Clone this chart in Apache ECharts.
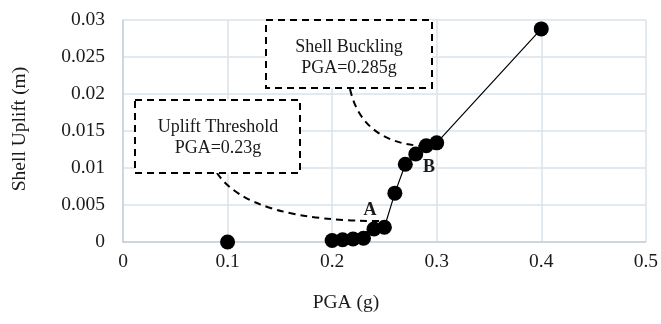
<!DOCTYPE html>
<html>
<head>
<meta charset="utf-8">
<script src="https://cdn.jsdelivr.net/npm/echarts@6/dist/echarts.min.js"></script>
<style>
  html, body { margin: 0; padding: 0; background: #fff; }
  #chart { width: 661px; height: 324px; }
</style>
</head>
<body>
<div id="chart"></div>
<script>
// Peak ground acceleration (g) and measured shell uplift (m) per analysis run
const pga = [0.1, 0.2, 0.21, 0.22, 0.23, 0.24, 0.25, 0.26, 0.27, 0.28, 0.29, 0.3, 0.4];
const uplift = [0, 0.0002, 0.0003, 0.0004, 0.0005, 0.00175, 0.002, 0.0066, 0.0105, 0.0119, 0.013, 0.0134, 0.0288];

// Runs joined by the trend line
const linePga = [0.2, 0.25, 0.26, 0.27, 0.28, 0.29, 0.3, 0.4];
const lineUplift = [0.0002, 0.002, 0.0066, 0.0105, 0.0119, 0.013, 0.0134, 0.0288];

const xTickLabels = ['0', '0.1', '0.2', '0.3', '0.4', '0.5'];
const yTickLabels = ['0', '0.005', '0.01', '0.015', '0.02', '0.025', '0.03'];

const FONT = '"Liberation Serif", "Times New Roman", serif';
const TXT = '#1a1a1a';
const AXIS_FS = 19.5;

const chart = echarts.init(document.getElementById('chart'), null, { renderer: 'canvas' });

const dashStyle = { stroke: '#000', lineWidth: 2, lineDash: [7, 5], fill: null };

chart.setOption({
  animation: false,
  backgroundColor: '#fff',
  grid: { left: 123, right: 13, top: 20, bottom: 82, containLabel: false },
  xAxis: {
    type: 'value', min: 0, max: 0.5, interval: 0.1,
    axisLine: { show: true, lineStyle: { color: '#c3d0dc', width: 1.5 } },
    axisTick: { show: false },
    splitLine: { show: true, lineStyle: { color: '#d9e3eb', width: 1.5 } },
    axisLabel: {
      margin: 10, fontFamily: FONT, fontSize: AXIS_FS, color: TXT,
      formatter: v => xTickLabels[Math.round(v / 0.1)]
    }
  },
  yAxis: {
    type: 'value', min: 0, max: 0.03, interval: 0.005,
    axisLine: { show: true, lineStyle: { color: '#c3d0dc', width: 1.5 } },
    axisTick: { show: false },
    splitLine: { show: true, lineStyle: { color: '#d9e3eb', width: 1.5 } },
    axisLabel: {
      margin: 18, fontFamily: FONT, fontSize: AXIS_FS, color: TXT,
      formatter: v => yTickLabels[Math.round(v / 0.005)]
    }
  },
  series: [
    {
      type: 'line',
      data: linePga.map((x, i) => [x, lineUplift[i]]),
      symbol: 'none',
      lineStyle: { color: '#000', width: 1.2 },
      z: 2
    },
    {
      type: 'scatter',
      data: pga.map((x, i) => [x, uplift[i]]),
      symbolSize: 15,
      itemStyle: { color: '#000', opacity: 1 },
      z: 3
    }
  ],
  graphic: [
    // axis titles
    {
      type: 'text', x: 346, y: 303,
      style: { text: 'PGA (g)', font: AXIS_FS + 'px ' + FONT, fill: TXT, align: 'center', verticalAlign: 'middle' }
    },
    {
      type: 'text', x: 20, y: 129, rotation: Math.PI / 2,
      style: { text: 'Shell Uplift (m)', font: AXIS_FS + 'px ' + FONT, fill: TXT, align: 'center', verticalAlign: 'middle' }
    },
    // leader curves
    {
      type: 'bezierCurve', z: 10,
      shape: { x1: 217, y1: 173, x2: 385, y2: 221, cpx1: 250, cpy1: 222 },
      style: dashStyle
    },
    {
      type: 'bezierCurve', z: 10,
      shape: { x1: 350, y1: 89, x2: 422, y2: 146, cpx1: 362, cpy1: 142 },
      style: dashStyle
    },
    // callout boxes
    {
      type: 'rect', z: 10,
      shape: { x: 266, y: 20, width: 166, height: 68 },
      style: { fill: '#fff', stroke: '#000', lineWidth: 2, lineDash: [7, 5] }
    },
    {
      type: 'text', z: 11, x: 349, y: 47,
      style: { text: 'Shell Buckling', font: '18px ' + FONT, fill: TXT, align: 'center', verticalAlign: 'middle' }
    },
    {
      type: 'text', z: 11, x: 349, y: 68,
      style: { text: 'PGA=0.285g', font: '18px ' + FONT, fill: TXT, align: 'center', verticalAlign: 'middle' }
    },
    {
      type: 'rect', z: 10,
      shape: { x: 135, y: 100, width: 165, height: 73 },
      style: { fill: '#fff', stroke: '#000', lineWidth: 2, lineDash: [7, 5] }
    },
    {
      type: 'text', z: 11, x: 218, y: 127,
      style: { text: 'Uplift Threshold', font: '18px ' + FONT, fill: TXT, align: 'center', verticalAlign: 'middle' }
    },
    {
      type: 'text', z: 11, x: 218, y: 148,
      style: { text: 'PGA=0.23g', font: '18px ' + FONT, fill: TXT, align: 'center', verticalAlign: 'middle' }
    },
    // point markers
    {
      type: 'text', z: 11, x: 370, y: 210,
      style: { text: 'A', font: 'bold 18px ' + FONT, fill: TXT, align: 'center', verticalAlign: 'middle' }
    },
    {
      type: 'text', z: 11, x: 429, y: 167,
      style: { text: 'B', font: 'bold 18px ' + FONT, fill: TXT, align: 'center', verticalAlign: 'middle' }
    }
  ]
});
</script>
</body>
</html>
